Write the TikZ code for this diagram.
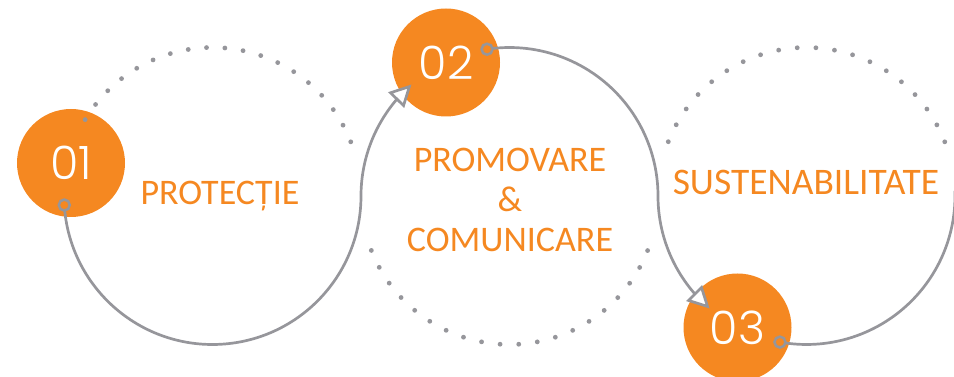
\documentclass[tikz,border=0pt]{standalone}
\usepackage{fontspec}
\usetikzlibrary{arrows.meta,bending,calc}
\IfFontExistsTF{Poppins Light}{\newfontfamily\numfont{Poppins Light}}{\newfontfamily\numfont{Poppins}}
\newfontfamily\labfont{Carlito}
\definecolor{accent}{RGB}{245,136,33}
\definecolor{linegray}{RGB}{150,150,155}
\pgfdeclarelayer{bg}\pgfdeclarelayer{fg}\pgfsetlayers{bg,main,fg}
\tikzset{
 numdisc/.style={circle, fill=accent, minimum size=108pt, inner sep=0pt, text=white, font=\numfont\fontsize{46}{46}\selectfont},
 ring/.style={circle, draw=linegray, line width=2.5pt, fill=accent, minimum size=11pt, inner sep=0pt},
 solidarc/.style={draw=linegray, line width=2.7pt},
 dotarc/.style={draw=linegray, line width=4.8pt, line cap=round},
 opentip/.style={-{Triangle[length=22pt,width=22pt,fill=white]}},
 lab/.style={text=accent, font=\labfont\fontsize{36}{40}\selectfont, inner sep=0pt},
}
\begin{document}
\begin{tikzpicture}[x=1pt,y=1pt]
\useasboundingbox (0,0) rectangle (954,377);
\def\R{148.5}
\coordinate (cL) at (212.5,181);
\coordinate (cM) at (509.5,181);
\coordinate (cR) at (806.5,181);
\begin{pgfonlayer}{bg}
\node[numdisc] (n1) at (71,214) {01};
\node[numdisc] (n2) at (446,314.5) {02};
\node[numdisc] (n3) at (737.5,49.5) {03};
\end{pgfonlayer}
\begin{pgfonlayer}{fg}
\node[ring] (r1) at ($(cL)+(183.5:\R)$) {};
\node[ring] (r2) at ($(cM)+(98.7:\R)$) {};
\node[ring] (r3) at ($(cR)+(259.7:\R)$) {};
\end{pgfonlayer}
% solid connectors
\draw[solidarc, opentip] (r1.center) arc[start angle=183.5, end angle=360, radius=\R] arc[start angle=180, end angle=131.3, radius=\R];
\draw[solidarc, opentip] (r2.center) arc[start angle=98.7, end angle=0, radius=\R] arc[start angle=180, end angle=229.3, radius=\R];
\draw[solidarc] (r3.center) arc[start angle=259.7, end angle=362, radius=\R];
% dotted arcs
\coordinate (dL) at ($(cL)+(21.4:\R)$);
\draw[dotarc, dash pattern=on 0pt off 18.38pt] (dL) arc[start angle=21.4, end angle=149.1, radius=\R];
\coordinate (dM) at ($(cM)+(201.5:\R)$);
\draw[dotarc, dash pattern=on 0pt off 18.68pt] (dM) arc[start angle=201.5, end angle=338.5, radius=\R];
\coordinate (dR) at ($(cR)+(21.4:\R)$);
\draw[dotarc, dash pattern=on 0pt off 18.71pt] (dR) arc[start angle=21.4, end angle=158.6, radius=\R];
% labels
\node[lab, anchor=base] (t1) at (220,172.7) {PROTECȚIE};
\node[lab, align=center] (t2) at (510,177) {PROMOVARE\\\&\\COMUNICARE};
\node[lab, anchor=base, font=\labfont\fontsize{37.5}{40}\selectfont] (t3) at (806,182.7) {SUSTENABILITATE};
\end{tikzpicture}
\end{document}
